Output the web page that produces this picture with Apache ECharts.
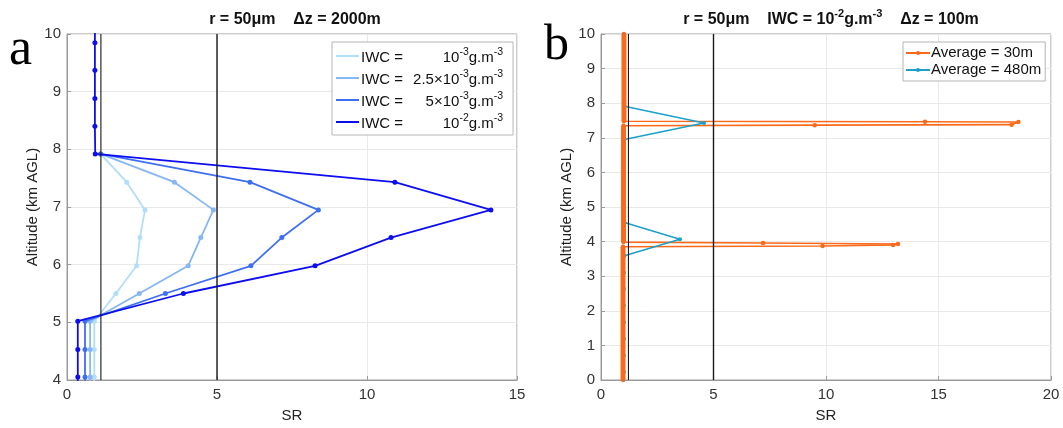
<!DOCTYPE html>
<html><head><meta charset="utf-8">
<script src="https://cdn.jsdelivr.net/npm/echarts@6/dist/echarts.min.js"></script>
<style>html,body{margin:0;padding:0;background:#fff}#c{width:1063px;height:428px}</style>
</head><body><div id="c"></div>
<script>
// ---------- Panel a data (SR vs altitude, km AGL) ----------
const altA    = [3.57, 4.05, 4.53, 5.02, 5.50, 5.98, 6.47, 6.95, 7.43, 7.92, 8.40, 8.88, 9.37, 9.85, 10.33];
const altAlow = [3.57, 4.05, 4.53, 5.02, 5.50, 5.98, 6.47, 6.95, 7.43, 7.92];
const sr1e3   = [0.91, 0.91, 0.91, 0.91, 1.63, 2.32, 2.43, 2.60, 1.99, 1.12];
const sr25e3  = [0.77, 0.77, 0.77, 0.77, 2.41, 4.04, 4.46, 4.88, 3.58, 1.12];
const sr5e3   = [0.60, 0.60, 0.60, 0.60, 3.28, 6.13, 7.16, 8.38, 6.10, 1.12];
const sr1e2   = [0.36, 0.36, 0.36, 0.36, 3.88, 8.27, 10.80, 14.13, 10.93, 0.94, 0.93, 0.93, 0.93, 0.93, 0.93];
const iwcNames = ['IWC1', 'IWC2', 'IWC3', 'IWC4'];
const iwcMant  = ['10', '2.5\u00d710', '5\u00d710', '10'];
const iwcExp   = ['-3', '-3', '-3', '-2'];
const thresholdsA = [1.13, 5];

// ---------- Panel b data ----------
const orangeAlt = [0, 3.85, 3.875, 3.90, 3.93, 3.96, 3.985, 7.35, 7.365, 7.38, 7.455, 7.465, 7.48, 10];
const orangeSR  = [0.98, 0.98, 9.85, 12.98, 13.2, 7.2, 1.0, 1.0, 9.5, 18.25, 18.55, 14.4, 1.02, 1.02];
const orangeBaseAlt = [0, 3.85, null, 3.985, 7.35, null, 7.48, 10];
const orangeBaseSR  = [0.98, 0.98, null, 1.0, 1.0, null, 1.02, 1.02];
const cyanAlt = [-0.25, 0.23, 0.71, 1.19, 1.67, 2.15, 2.63, 3.11, 3.59, 4.07, 4.55, 5.03, 5.51, 5.99, 6.47, 6.95, 7.43, 7.91, 8.39, 8.87, 9.35, 9.83, 10.31];
const cyanSR  = [1.02, 1.02, 1.02, 1.02, 1.02, 1.02, 1.02, 1.02, 1.04, 3.51, 1.04, 1.02, 1.02, 1.02, 1.02, 1.04, 4.58, 1.04, 1.02, 1.02, 1.02, 1.02, 1.02];
const thresholdsB = [1.22, 5];
const legendB = ['Average = 30m', 'Average = 480m'];

// ---------- helpers ----------
const FONT = '"Liberation Sans", Arial, Helvetica, sans-serif';
const F = 15, FS = 10.5;
function pairs(xs, ys) { return xs.map((x, i) => (x === null || ys[i] === null) ? '-' : [x, ys[i]]); }
const ctx = document.createElement('canvas').getContext('2d');
function tw(t, size) { ctx.font = size + 'px ' + FONT; return ctx.measureText(t).width; }
const valW = iwcMant.map((m, i) => tw(m, F) + tw(iwcExp[i], FS) + tw('g.m', F) + tw('-3', FS));
const maxW = Math.max(...valW);
const richA = {
  n: { fontSize: F, fontFamily: FONT, color: '#111', lineHeight: 18, verticalAlign: 'bottom' },
  s: { fontSize: FS, fontFamily: FONT, color: '#111', lineHeight: 8, verticalAlign: 'top' }
};
iwcNames.forEach((nm, i) => { richA['p' + i] = { width: maxW - valW[i] + 10, fontSize: F, lineHeight: 18 }; });

const colorsA = ['#b2defa', '#86b6f3', '#3e6ff0', '#0d0df0'];
const srA = [sr1e3, sr25e3, sr5e3, sr1e2];
const altsA = [altAlow, altAlow, altAlow, altA];

const series = [];
srA.forEach((arr, i) => series.push({
  name: iwcNames[i], type: 'line', xAxisIndex: 0, yAxisIndex: 0,
  data: pairs(arr, altsA[i]), symbol: 'circle', symbolSize: 5, showSymbol: true,
  lineStyle: { width: 1.8, color: colorsA[i] }, itemStyle: { color: colorsA[i] },
  z: 3 + i, animation: false
}));
thresholdsA.forEach((t, i) => series.push({
  name: 'thrA' + i, type: 'line', xAxisIndex: 0, yAxisIndex: 0,
  data: [[t, 4], [t, 10]], symbol: 'none',
  lineStyle: { width: i === 1 ? 1.4 : 1.1, color: '#1a1a1a' }, z: 10, animation: false, silent: true
}));
series.push({
  name: legendB[0], type: 'line', xAxisIndex: 1, yAxisIndex: 1,
  data: pairs(orangeSR, orangeAlt), symbol: 'circle', symbolSize: 4.5,
  lineStyle: { width: 1.6, color: '#fb6a1a' }, itemStyle: { color: '#fb6a1a' }, z: 3, animation: false
});
series.push({
  name: legendB[1], type: 'line', xAxisIndex: 1, yAxisIndex: 1,
  data: pairs(cyanSR, cyanAlt), symbol: 'circle', symbolSize: 4,
  lineStyle: { width: 1.5, color: '#1ca0c9' }, itemStyle: { color: '#1ca0c9' }, z: 4, animation: false
});
series.push({
  name: 'dense30', type: 'line', xAxisIndex: 1, yAxisIndex: 1,
  data: pairs(orangeBaseSR, orangeBaseAlt), symbol: 'none', connectNulls: false,
  lineStyle: { width: 5, color: '#fb6a1a' }, z: 6, animation: false, silent: true
});
thresholdsB.forEach((t, i) => series.push({
  name: 'thrB' + i, type: 'line', xAxisIndex: 1, yAxisIndex: 1,
  data: [[t, 0], [t, 10]], symbol: 'none',
  lineStyle: { width: i === 1 ? 1.4 : 1.1, color: '#1a1a1a' }, z: 10, animation: false, silent: true
}));

const axisCommon = {
  axisLine: { show: true, lineStyle: { color: '#9a9a9a' } },
  axisTick: { show: true, inside: true, length: 4, lineStyle: { color: '#9a9a9a' } },
  splitLine: { show: true, lineStyle: { color: '#e9e9e9', width: 1 } },
  axisLabel: { color: '#333', fontSize: F, fontFamily: FONT },
  nameTextStyle: { color: '#222', fontSize: F, fontFamily: FONT }
};
function xAx(idx, max) {
  return Object.assign({}, axisCommon, { type: 'value', gridIndex: idx, min: 0, max: max, interval: 5,
    name: 'SR', nameLocation: 'middle', nameGap: 28,
    axisLabel: Object.assign({}, axisCommon.axisLabel, { margin: 7 }) });
}
function yAx(idx, min) {
  return Object.assign({}, axisCommon, { type: 'value', gridIndex: idx, min: min, max: 10, interval: 1,
    name: 'Altitude (km AGL)', nameLocation: 'middle', nameGap: 27,
    axisLabel: Object.assign({}, axisCommon.axisLabel, { margin: 6 }) });
}

const titleRich = {
  b: { fontSize: 16, fontWeight: 'bold', fontFamily: FONT, color: '#111', lineHeight: 20, verticalAlign: 'bottom' },
  s: { fontSize: 11, fontWeight: 'bold', fontFamily: FONT, color: '#111', lineHeight: 9, verticalAlign: 'top' }
};

const option = {
  backgroundColor: '#fff',
  animation: false,
  grid: [
    { left: 67, top: 34, width: 450, height: 350, show: true, borderColor: '#9a9a9a', borderWidth: 1, backgroundColor: 'transparent' },
    { left: 601, top: 34, width: 450, height: 350, show: true, borderColor: '#9a9a9a', borderWidth: 1, backgroundColor: 'transparent' }
  ],
  xAxis: [xAx(0, 15), xAx(1, 20)],
  yAxis: [yAx(0, 4), yAx(1, 0)],
  title: [
    { left: 290, top: 3, textAlign: 'center', text: '{b|r = 50\u03bcm    \u0394z = 2000m}', textStyle: { rich: titleRich } },
    { left: 826, top: 3, textAlign: 'center', text: '{b|r = 50\u03bcm    IWC = 10}{s|-2}{b|g.m}{s|-3}{b|    \u0394z = 100m}', textStyle: { rich: titleRich } }
  ],
  legend: [
    { data: iwcNames, orient: 'vertical', left: 332, top: 42, itemWidth: 23, itemHeight: 2, icon: 'rect', itemGap: 4,
      backgroundColor: '#fff', borderColor: '#b5b5b5', borderWidth: 1, padding: [5, 10, 4, 4],
      formatter: function (name) { const i = iwcNames.indexOf(name);
        return '{n|IWC =}{p' + i + '| }{n|' + iwcMant[i] + '}{s|' + iwcExp[i] + '}{n|g.m}{s|-3}'; },
      textStyle: { rich: richA, padding: [0, 0, 0, -3] } },
    { data: legendB, orient: 'vertical', left: 903, top: 42, itemWidth: 24, itemHeight: 5, itemGap: 1,
      backgroundColor: '#fff', borderColor: '#b5b5b5', borderWidth: 1, padding: [3, 4, 3, 2],
      textStyle: { fontSize: F, fontFamily: FONT, color: '#111', padding: [0, 0, 0, -4], lineHeight: 16 } }
  ],
  graphic: [
    { type: 'text', left: 9, top: 24, style: { text: 'a', font: '52px "Liberation Serif", "DejaVu Serif", serif', fill: '#000' } },
    { type: 'text', left: 544, top: 21, style: { text: 'b', font: '50px "Liberation Serif", "DejaVu Serif", serif', fill: '#000' } }
  ],
  series: series
};
const chart = echarts.init(document.getElementById('c'), null, { renderer: 'canvas' });
chart.setOption(option);
</script>
</body></html>
